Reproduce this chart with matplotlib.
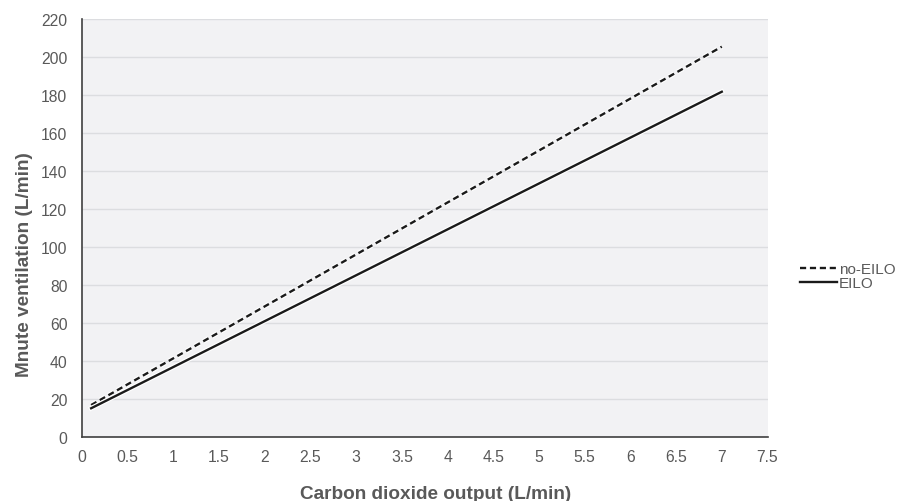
import matplotlib.pyplot as plt
import matplotlib.patheffects as pe

plt.rcParams['font.family'] = ['Liberation Sans', 'DejaVu Sans']

# data (straight regression lines)
co2 = [0.1, 7.0]
ve_no_eilo = [16.8, 205.2]
ve_eilo = [15.1, 181.5]

x_ticks = [0, 0.5, 1, 1.5, 2, 2.5, 3, 3.5, 4, 4.5, 5, 5.5, 6, 6.5, 7, 7.5]
x_tick_labels = ['0', '0.5', '1', '1.5', '2', '2.5', '3', '3.5', '4', '4.5',
                 '5', '5.5', '6', '6.5', '7', '7.5']
y_ticks = list(range(0, 221, 20))

grey = '#595959'

fig = plt.figure(figsize=(9.01, 5.02), dpi=100)
ax = fig.add_axes([82 / 901, 1 - 438 / 502, (767.5 - 82) / 901, (438 - 19.5) / 502])
ax.set_facecolor('#f2f2f4')

halo = [pe.Stroke(linewidth=3.4, foreground='white'), pe.Normal()]
ax.plot(co2, ve_no_eilo, color='#1a1a1a', lw=1.7, ls=(0, (2.6, 1.6)),
        label='no-EILO', path_effects=halo, zorder=3)
ax.plot(co2, ve_eilo, color='#1a1a1a', lw=1.7, label='EILO',
        path_effects=halo, zorder=3)

ax.set_xlim(0, 7.5)
ax.set_ylim(0, 220)
ax.set_xticks(x_ticks)
ax.set_xticklabels(x_tick_labels)
ax.set_yticks(y_ticks)
ax.grid(axis='y', color='#dcdde0', lw=1)
ax.set_axisbelow(True)

for s in ['top', 'right']:
    ax.spines[s].set_visible(False)
for s in ['left', 'bottom']:
    ax.spines[s].set_color('#404040')
    ax.spines[s].set_linewidth(1.2)

ax.tick_params(length=0, labelsize=11.3, labelcolor=grey)
ax.tick_params(axis='y', pad=10.5)
ax.tick_params(axis='x', pad=9)

ax.set_xlabel('Carbon dioxide output (L/min)', fontsize=13.7, fontweight='bold',
              color=grey, labelpad=15)
ax.set_ylabel('Mnute ventilation (L/min)', fontsize=13.7, fontweight='bold',
              color=grey, labelpad=5.5)
ax.xaxis.label.set_x(0.516)
ax.yaxis.label.set_y(0.415)

leg = fig.legend(handles=ax.get_lines(), loc='center left',
                 bbox_to_anchor=(800 / 901, 1 - 277.5 / 502), frameon=False,
                 fontsize=11, handlelength=2.4, handletextpad=0.15,
                 labelspacing=0.0, borderaxespad=0, borderpad=0)
for t in leg.get_texts():
    t.set_color(grey)
for h in leg.get_lines():
    h.set_path_effects([])
    h.set_linewidth(1.7)

fig.savefig('out.png', dpi=100)
